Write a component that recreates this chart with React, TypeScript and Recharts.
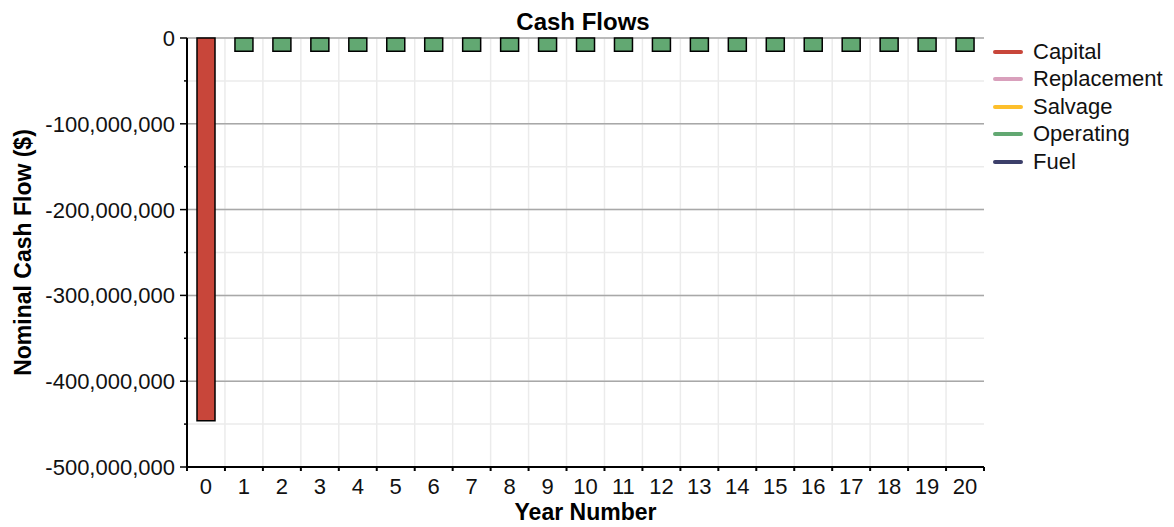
import { BarChart, Bar, XAxis, YAxis, CartesianGrid, Legend } from 'recharts'

const years = [0, 1, 2, 3, 4, 5, 6, 7, 8, 9, 10, 11, 12, 13, 14, 15, 16, 17, 18, 19, 20]
const capital = [-446000000, 0, 0, 0, 0, 0, 0, 0, 0, 0, 0, 0, 0, 0, 0, 0, 0, 0, 0, 0, 0]
const replacement = [0, 0, 0, 0, 0, 0, 0, 0, 0, 0, 0, 0, 0, 0, 0, 0, 0, 0, 0, 0, 0]
const salvage = [0, 0, 0, 0, 0, 0, 0, 0, 0, 0, 0, 0, 0, 0, 0, 0, 0, 0, 0, 0, 0]
const operating = [
  0, -15300000, -15300000, -15300000, -15300000, -15300000, -15300000, -15300000,
  -15300000, -15300000, -15300000, -15300000, -15300000, -15300000, -15300000,
  -15300000, -15300000, -15300000, -15300000, -15300000, -15300000,
]
const fuel = [0, 0, 0, 0, 0, 0, 0, 0, 0, 0, 0, 0, 0, 0, 0, 0, 0, 0, 0, 0, 0]

const yTicks = [
  0, -50000000, -100000000, -150000000, -200000000, -250000000,
  -300000000, -350000000, -400000000, -450000000, -500000000,
]
const yLabelTicks = [0, -100000000, -200000000, -300000000, -400000000, -500000000]

// legend / stacking order
const seriesNames = ['Capital', 'Replacement', 'Salvage', 'Operating', 'Fuel']

const data = years.map((year, i) => ({
  year,
  capital: capital[i],
  replacement: replacement[i],
  salvage: salvage[i],
  operating: operating[i],
  fuel: fuel[i],
}))

const W = 1174
const H = 527
const FONT = '"Liberation Sans", Arial, sans-serif'
const PLOT_LEFT = 187
const PLOT_RIGHT = 984
const band = (PLOT_RIGHT - PLOT_LEFT) / years.length

function YTick({ x, y, payload }: any) {
  const major = payload.value % 100000000 === 0
  return (
    <g>
      <line x1={x - (major ? 7 : 3)} x2={x} y1={y} y2={y} stroke="#000" strokeWidth={1.5} />
      {major && (
        <text x={x - 12} y={y + 8} textAnchor="end" fontSize={22} fill="#111" fontFamily={FONT}>
          {Number(payload.value).toLocaleString('en-US')}
        </text>
      )}
    </g>
  )
}

function XTick({ x, y, payload }: any) {
  const last = payload.value === years[years.length - 1]
  return (
    <g>
      <line x1={x - band / 2} x2={x - band / 2} y1={y} y2={y + 4} stroke="#000" strokeWidth={2} />
      {last && <line x1={x + band / 2} x2={x + band / 2} y1={y} y2={y + 4} stroke="#000" strokeWidth={2} />}
      <text x={x} y={y + 27} textAnchor="middle" fontSize={22} fill="#111" fontFamily={FONT}>
        {payload.value}
      </text>
    </g>
  )
}

function YLabel({ viewBox }: any) {
  const cx = 23
  const cy = viewBox.y + viewBox.height / 2
  return (
    <text
      x={cx}
      y={cy}
      transform={`rotate(-90 ${cx} ${cy})`}
      textAnchor="middle"
      dominantBaseline="central"
      fontSize={23}
      fontWeight="bold"
      fill="#000"
      fontFamily={FONT}
    >
      Nominal Cash Flow ($)
    </text>
  )
}

function XLabel({ viewBox }: any) {
  return (
    <text
      x={viewBox.x + viewBox.width / 2}
      y={viewBox.y + 53}
      textAnchor="middle"
      fontSize={23}
      fontWeight="bold"
      fill="#000"
      fontFamily={FONT}
    >
      Year Number
    </text>
  )
}

function LegendContent({ payload }: any) {
  const items = [...(payload || [])].sort(
    (a: any, b: any) => seriesNames.indexOf(a.value) - seriesNames.indexOf(b.value)
  )
  return (
    <div style={{ fontFamily: FONT, fontSize: 22, color: '#111' }}>
      {items.map((entry: any) => (
        <div key={entry.value} style={{ display: 'flex', alignItems: 'center', height: 27.5 }}>
          <span
            style={{
              display: 'inline-block',
              width: 30,
              height: 4,
              borderRadius: 2,
              background: entry.color,
              marginLeft: 9,
              marginRight: 10,
            }}
          />
          <span>{entry.value}</span>
        </div>
      ))}
    </div>
  )
}

export default function App() {
  return (
    <div style={{ width: W, height: H }}>
      <style>{'body{margin:0}'}</style>
      <BarChart
        width={W}
        height={H}
        data={data}
        margin={{ top: 38, right: 10, bottom: 0, left: 0 }}
        style={{ fontFamily: FONT }}
      >
        <CartesianGrid
          stroke="#ebebeb"
          strokeWidth={1.5}
          verticalCoordinatesGenerator={({ offset }: any) =>
            years.slice(1).map((_, i) => offset.left + ((i + 1) * offset.width) / years.length)
          }
        />
        <CartesianGrid
          stroke="#a8a8a8"
          strokeWidth={1.5}
          vertical={false}
          horizontalCoordinatesGenerator={({ yAxis, offset }: any) =>
            yLabelTicks.map((v) =>
              yAxis && typeof yAxis.scale === 'function'
                ? yAxis.scale(v)
                : offset.top + (v / yTicks[yTicks.length - 1]) * offset.height
            )
          }
        />
        <XAxis
          dataKey="year"
          height={60}
          interval={0}
          tickSize={0}
          tickMargin={0}
          tickLine={false}
          tick={<XTick />}
          axisLine={{ stroke: '#000', strokeWidth: 2 }}
          label={<XLabel />}
        />
        <XAxis
          xAxisId="top"
          dataKey="year"
          orientation="top"
          height={0}
          tick={false}
          tickLine={false}
          axisLine={{ stroke: '#000', strokeWidth: 2 }}
        />
        <YAxis
          width={187}
          domain={[-500000000, 0]}
          ticks={yTicks}
          interval={0}
          tickSize={0}
          tickMargin={0}
          tickLine={false}
          tick={<YTick />}
          axisLine={{ stroke: '#000', strokeWidth: 2 }}
          label={<YLabel />}
        />
        <YAxis
          yAxisId="right"
          orientation="right"
          width={0}
          domain={[-500000000, 0]}
          tick={false}
          tickLine={false}
          axisLine={{ stroke: '#000', strokeWidth: 2 }}
        />
        <Legend
          layout="vertical"
          align="right"
          verticalAlign="top"
          wrapperStyle={{ width: 180, top: 38, left: 984 }}
          content={<LegendContent />}
        />
        <text x={583} y={30} textAnchor="middle" fontSize={24} fontWeight="bold" fill="#000" fontFamily={FONT}>
          Cash Flows
        </text>
        <Bar dataKey="capital" name="Capital" stackId="a" barSize={18} fill="#c8463a" stroke="#000" strokeWidth={1.5} isAnimationActive={false} />
        <Bar dataKey="replacement" name="Replacement" stackId="a" barSize={18} fill="#d9a0bc" stroke="#000" strokeWidth={1.5} isAnimationActive={false} />
        <Bar dataKey="salvage" name="Salvage" stackId="a" barSize={18} fill="#fdbf2b" stroke="#000" strokeWidth={1.5} isAnimationActive={false} />
        <Bar dataKey="operating" name="Operating" stackId="a" barSize={18} fill="#62a872" stroke="#000" strokeWidth={1.5} isAnimationActive={false} />
        <Bar dataKey="fuel" name="Fuel" stackId="a" barSize={18} fill="#3c3f6a" stroke="#000" strokeWidth={1.5} isAnimationActive={false} />
      </BarChart>
    </div>
  )
}
